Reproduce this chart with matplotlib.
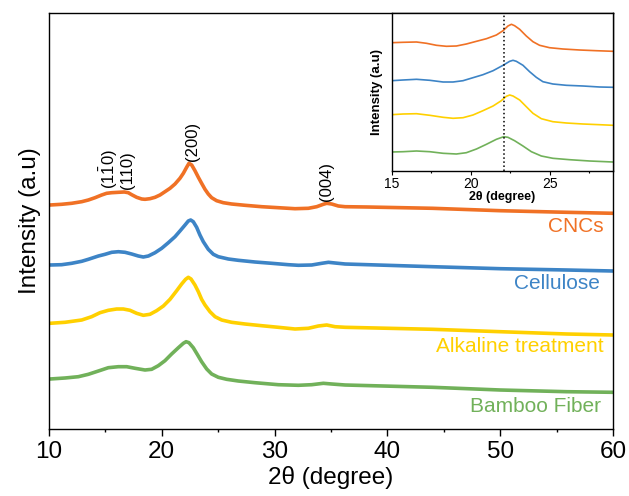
import matplotlib

matplotlib.use("Agg")
import matplotlib.pyplot as plt
from matplotlib.ticker import MultipleLocator

plt.rcParams["font.family"] = ["Liberation Sans", "DejaVu Sans"]
plt.rcParams["mathtext.fontset"] = "custom"
plt.rcParams["mathtext.rm"] = "Liberation Sans"

# main pattern, intensity in arbitrary (offset) units
cnc_x = [10.09, 11.12, 12.01, 12.90, 13.49, 14.08, 14.67, 15.11, 15.56, 16.15, 16.68, 17.03,
         17.33, 17.77, 18.22, 18.51, 18.95, 19.40, 19.84, 20.28, 20.73, 21.17, 21.61, 21.91,
         22.20, 22.41, 22.65, 22.94, 23.24, 23.53, 23.83, 24.12, 24.42, 24.86, 25.45, 26.19,
         27.38, 28.85, 30.33, 31.81, 32.99, 33.73, 34.32, 34.62, 35.06, 35.65, 36.25, 38.2,
         44, 50, 55.9, 60]
cnc_y = [224, 224.7, 225.7, 227.3, 229, 231.3, 234, 235.7, 236.3, 236.7, 237, 236.3,
         234.3, 231.7, 230, 229.7, 230.3, 231.7, 234, 237.3, 240.7, 245, 250.7, 255.7,
         261.7, 265.7, 264, 258.3, 251.7, 245.7, 239.7, 235, 231.3, 228.3, 226.3, 225,
         223.7, 222.3, 221.3, 220.3, 220.7, 222.3, 224.7, 225.7, 225, 223, 222.3, 222,
         220.7, 218.3, 216.7, 215.7]

cel_x = [10.09, 11.12, 12.01, 12.90, 13.49, 14.38, 14.97, 15.56, 16.15, 16.74, 17.33, 17.92,
         18.36, 18.81, 19.40, 19.99, 20.58, 21.17, 21.61, 22.06, 22.35, 22.56, 22.79, 23.09,
         23.38, 23.68, 24.12, 24.57, 25.01, 25.90, 26.78, 28.26, 29.74, 31.22, 32.11, 33.29,
         34.18, 34.77, 35.36, 36.25, 44, 50, 55.9, 60]
cel_y = [164, 164.3, 165.7, 167.7, 169.7, 173, 174.7, 176.7, 177.3, 176.7, 175, 173,
         172, 173, 176.3, 180.7, 186.3, 192.3, 198, 204, 208, 209, 207.3, 201.7,
         194, 187.3, 179.7, 174.7, 172.3, 170, 168.7, 167, 165.7, 164.3, 163.7, 164,
         165.7, 166.7, 166, 165, 162.3, 160.3, 159, 158]

alk_x = [10.09, 11.42, 12.90, 13.78, 14.52, 15.26, 16.00, 16.59, 17.18, 17.77, 18.36, 18.95,
         19.54, 20.14, 20.73, 21.32, 21.76, 22.11, 22.35, 22.59, 22.94, 23.24, 23.53, 23.83,
         24.27, 24.72, 25.31, 26.19, 27.38, 28.85, 30.33, 31.81, 32.99, 33.88, 34.62, 35.36,
         36.25, 44, 50, 55.9, 60]
alk_y = [105.7, 106.7, 109, 112.3, 116.3, 118.7, 120, 120, 118.7, 115.7, 113.7, 114.7,
         118.3, 123, 129.7, 138.3, 145, 149.7, 151.7, 150, 144, 137.3, 129.7, 124,
         117.3, 112.3, 109, 106.7, 105, 103.3, 101.7, 100, 100.7, 103, 104, 102.3,
         101.7, 99.7, 97.3, 95, 94]

bam_x = [10.09, 11.42, 12.60, 13.49, 14.38, 15.26, 16.15, 16.89, 17.63, 18.51, 19.10, 19.69,
         20.28, 20.87, 21.47, 21.91, 22.15, 22.41, 22.79, 23.18, 23.53, 23.98, 24.42, 25.01,
         25.75, 26.78, 28.26, 30.33, 32.11, 33.29, 34.32, 35.06, 36.25, 44, 50, 55.9, 60]
bam_y = [50, 51, 52.3, 54.7, 58, 61.3, 62.3, 62.3, 60.7, 59, 59.7, 63.3,
         68.3, 75, 81.3, 85.7, 87.3, 86.3, 81.3, 74, 67.3, 60, 55, 51.7,
         49.7, 48, 46.3, 44.3, 43.7, 44.3, 45.7, 45, 44, 41.7, 39, 37.3, 36.7]

# inset (zoom on the (200) peak)
in_cnc_x = [15.0, 15.73, 16.58, 17.21, 17.84, 18.47, 19.10, 19.73, 20.37, 21.0, 21.63, 22.05,
            22.36, 22.58, 22.78, 23.10, 23.52, 23.94, 24.36, 24.99, 25.83, 26.89, 27.94, 28.99]
in_cnc_y = [128.3, 128.7, 129, 127.7, 125.7, 124.7, 125, 127, 129.7, 132.3, 136, 140.3,
            145, 146.7, 145.3, 141.7, 135, 129.3, 125.7, 123.3, 122, 121, 120.3, 119.7]
in_cel_x = [15.0, 15.73, 16.58, 17.42, 18.26, 18.89, 19.52, 20.15, 20.78, 21.42, 22.05, 22.47,
            22.68, 22.89, 23.31, 23.73, 24.15, 24.57, 25.20, 26.05, 27.10, 28.15, 28.99]
in_cel_y = [90.3, 91, 91.7, 90.7, 89, 89, 90.3, 93.3, 96.3, 100.3, 105.7, 109.7,
            110.7, 109.7, 105.7, 99.3, 93.7, 89.3, 87, 85.7, 85, 84, 83.7]
in_alk_x = [15.0, 15.73, 16.58, 17.42, 18.26, 18.89, 19.52, 20.15, 20.78, 21.42, 21.94, 22.26,
            22.47, 22.68, 23.10, 23.52, 23.94, 24.47, 25.20, 26.05, 27.10, 28.15, 28.99]
in_alk_y = [56.3, 57, 57.3, 55.7, 53.7, 52.7, 53.3, 56, 60.3, 65, 70.3, 74.7,
            76, 75, 71, 64.3, 57.7, 52.3, 49.3, 48, 47, 46.3, 45.7]
in_bam_x = [15.0, 15.73, 16.58, 17.42, 18.26, 19.10, 19.73, 20.37, 21.0, 21.63, 22.09, 22.36,
            22.78, 23.31, 23.84, 24.47, 25.20, 26.26, 27.52, 28.99]
in_bam_y = [19, 19.3, 20, 19.3, 17.7, 17, 18.3, 22, 26.7, 31.7, 34.3, 33.7,
            30.3, 25, 19.3, 15, 12.7, 11.3, 10, 9]

peak_ref = 22.1

names = ["CNCs", "Cellulose", "Alkaline treatment", "Bamboo Fiber"]
colors = ["#F07125", "#3D84C6", "#FFD000", "#71B15A"]
label_pos = [(59.2, 203), (58.8, 145.7), (59.2, 82), (58.9, 22)]

peak_labels = [r"$\mathregular{(1\bar{1}0)}$", "(110)", "(200)", "(004)"]
peak_pos = [(15.3, 240), (17.0, 240), (22.7, 268), (34.6, 228)]

fig = plt.figure(figsize=(6.29, 4.96), dpi=100)
ax = fig.add_axes([49 / 629, 1 - 429 / 496, 564 / 629, 416 / 496])

series = [(cnc_x, cnc_y), (cel_x, cel_y), (alk_x, alk_y), (bam_x, bam_y)]
for (xs, ys), color in zip(series, colors):
    ax.plot(xs, ys, color=color, lw=2.6, solid_joinstyle="round")
for name, color, (lx, ly) in zip(names, colors, label_pos):
    ax.text(lx, ly, name, color=color, fontsize=15, ha="right", va="center")
for text, (px, py) in zip(peak_labels, peak_pos):
    ax.text(px, py, text, rotation=90, fontsize=12, ha="center", va="bottom")

ax.set_xlim(10, 60)
ax.set_ylim(0, 416)
ax.set_yticks([])
ax.xaxis.set_major_locator(MultipleLocator(10))
ax.xaxis.set_minor_locator(MultipleLocator(5))
ax.tick_params(axis="x", which="major", length=5, width=1, labelsize=17.5, pad=4)
ax.tick_params(axis="x", which="minor", length=2.5, width=1)
ax.set_xlabel("2θ (degree)", fontsize=17.5, labelpad=2)
ax.set_ylabel("Intensity (a.u)", fontsize=17.5, labelpad=6)
for spine in ax.spines.values():
    spine.set_linewidth(1)

ins = fig.add_axes([391.5 / 629, 1 - 171 / 496, 221.5 / 629, 158.5 / 496])
inset_series = [(in_cnc_x, in_cnc_y), (in_cel_x, in_cel_y), (in_alk_x, in_alk_y), (in_bam_x, in_bam_y)]
for (xs, ys), color in zip(inset_series, colors):
    ins.plot(xs, ys, color=color, lw=1.2)
ins.axvline(peak_ref, color="black", ls=":", lw=1.1)
ins.set_xlim(15, 29)
ins.set_ylim(0, 158.5)
ins.set_yticks([])
ins.xaxis.set_major_locator(MultipleLocator(5))
ins.xaxis.set_minor_locator(MultipleLocator(2.5))
ins.tick_params(axis="x", which="major", length=3, width=0.8, labelsize=10, pad=1.5)
ins.tick_params(axis="x", which="minor", length=1.5, width=0.8)
ins.set_xlabel("2θ (degree)", fontsize=9, fontweight="bold", labelpad=0)
ins.set_ylabel("Intensity (a.u)", fontsize=9.5, fontweight="bold", labelpad=6)
for spine in ins.spines.values():
    spine.set_linewidth(1)

fig.savefig("out.png", dpi=100)
